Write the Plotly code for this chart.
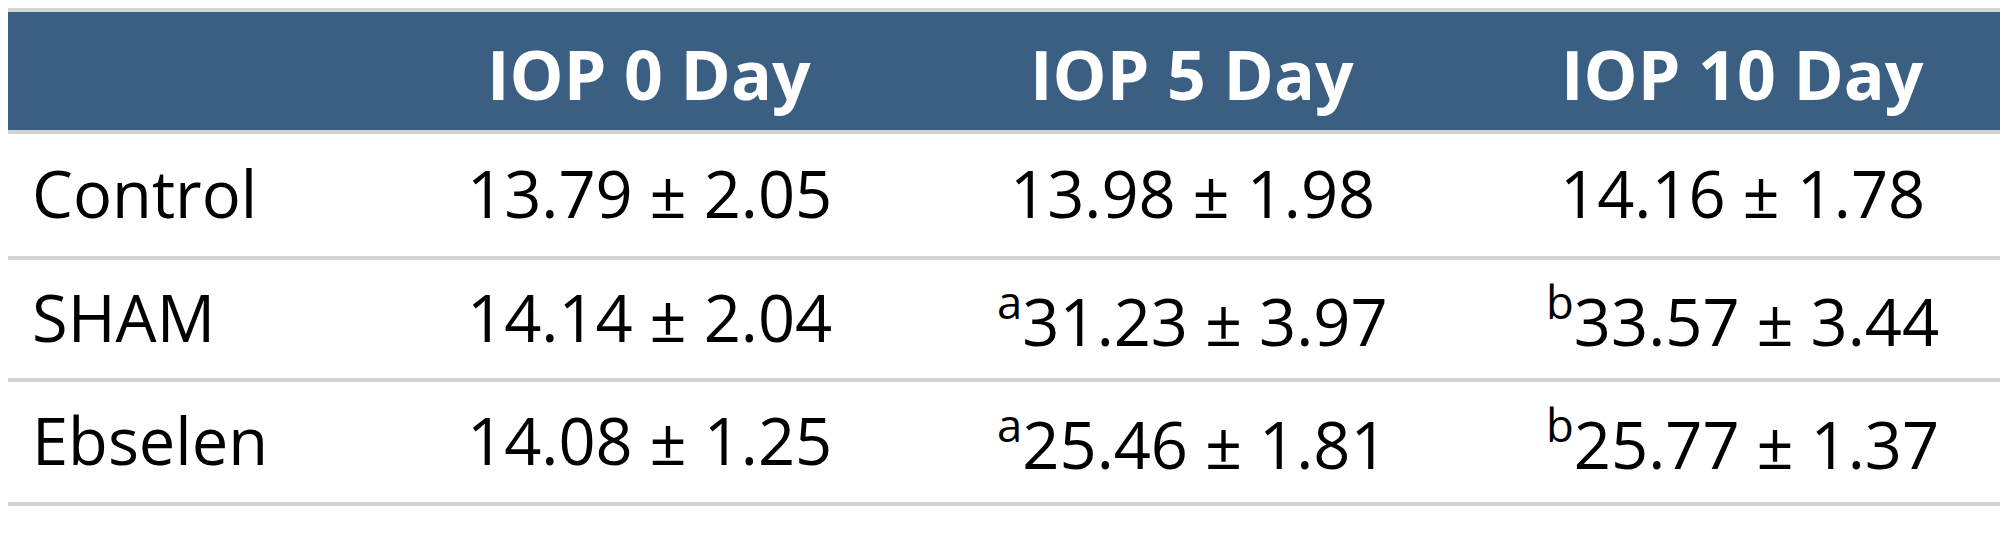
import plotly.graph_objects as go

columns = ["IOP 0 Day", "IOP 5 Day", "IOP 10 Day"]
groups = ["Control", "SHAM", "Ebselen"]
means = [[13.79, 13.98, 14.16],
         [14.14, 31.23, 33.57],
         [14.08, 25.46, 25.77]]
sds = [[2.05, 1.98, 1.78],
       [2.04, 3.97, 3.44],
       [1.25, 1.81, 1.37]]
marks = [["", "", ""],
         ["", "a", "b"],
         ["", "a", "b"]]

W, H = 2008, 544
off = 8  # page body margin, so axis units match page pixels
col_x = [649, 1192, 1742]
label_x = 30
header_top, header_bot = 12, 130
row_lines = [130, 256, 378, 502]
font = "Open Sans"

fig = go.Figure()
shapes = []
annotations = []

# header band
shapes.append(dict(type="rect", x0=-20, x1=W + 20, y0=header_top, y1=header_bot,
                   fillcolor="#3a5f83", line_width=0, layer="below"))
shapes.append(dict(type="line", x0=-20, x1=W + 20, y0=10, y1=10, line=dict(color="#d3d3d3", width=4)))
for y in row_lines:
    shapes.append(dict(type="line", x0=-20, x1=W + 20, y0=y + 2, y1=y + 2,
                       line=dict(color="#d3d3d3", width=4)))

for j, c in enumerate(columns):
    annotations.append(dict(x=col_x[j], y=(header_top + header_bot) / 2 + 2, text="<b>" + c + "</b>",
                            showarrow=False, xanchor="center", yanchor="middle",
                            font=dict(family=font, size=68, color="white")))

for i, g in enumerate(groups):
    yc = (row_lines[i] + row_lines[i + 1]) / 2
    annotations.append(dict(x=label_x, y=yc, text=g, showarrow=False, xanchor="left",
                            yanchor="middle", font=dict(family=font, size=65, color="black")))
    for j in range(len(columns)):
        t = f"{means[i][j]:.2f} ± {sds[i][j]:.2f}"
        if marks[i][j]:
            t = f"<sup>{marks[i][j]}</sup>" + t
        annotations.append(dict(x=col_x[j], y=yc, text=t, showarrow=False, xanchor="center",
                                yanchor="middle", font=dict(family=font, size=65, color="black")))

fig.update_layout(
    width=W, height=H,
    margin=dict(l=0, r=0, t=0, b=0),
    paper_bgcolor="white", plot_bgcolor="white",
    xaxis=dict(range=[off, W + off], visible=False, fixedrange=True),
    yaxis=dict(range=[H + off, off], visible=False, fixedrange=True),
    shapes=shapes, annotations=annotations, showlegend=False,
)

fig.write_html("out.html")
